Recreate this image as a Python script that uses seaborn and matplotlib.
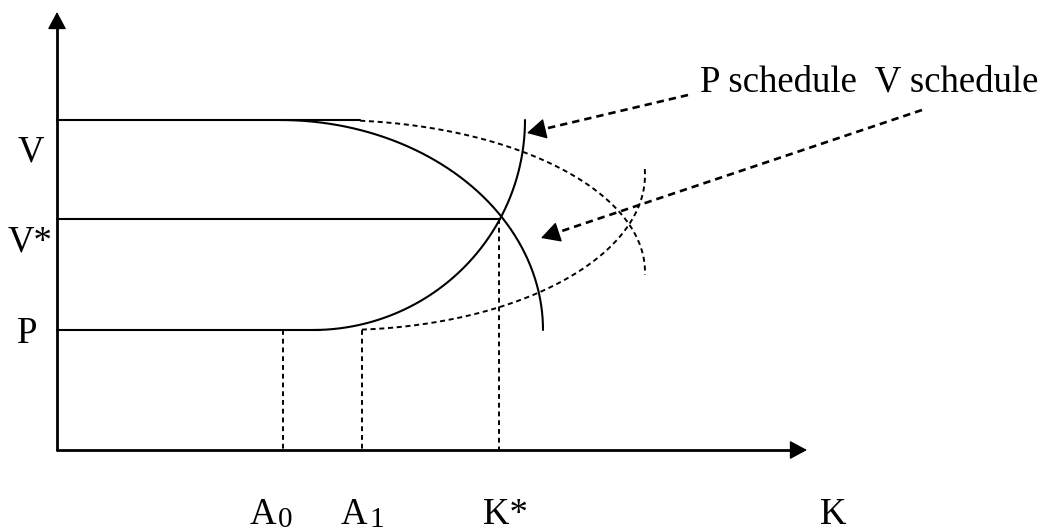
import numpy as np
import matplotlib
matplotlib.use("Agg")
import matplotlib.pyplot as plt
from matplotlib.patches import ArrowStyle
import seaborn as sns

sns.set_theme(style="white")
plt.rcParams['font.family'] = ['Liberation Serif', 'DejaVu Serif']

# ---- schematic values (pixel-space coordinates of the diagram) ----
origin = [57, 450]            # axes origin
axis_ends = [807, 12]         # x-axis tip, y-axis tip
level_names = ["V", "V*", "P"]
level_y = [120, 219, 330]
level_solid_end = [360, 500, 320]
mark_names = ["A0", "A1", "K*"]
mark_x = [283, 362, 499]
mark_top = [330, 330, 219]

# ellipse parameters: center x, center y, semi-axis a, semi-axis b, t0, t1 (deg)
v_solid = [280, 330, 263, 210, 0, 90]       # V schedule (solid)
p_solid = [313, 120, 212, 210, 0, 90]       # P schedule (solid)
v_dash = [330, 272, 315, 152, 5.5, 91]      # V schedule (dashed)
p_dash = [340, 175, 305, 155, 4.1, 92.2]    # P schedule (dashed)

annot_text = "P schedule  V schedule"
arrow_p = [[688, 95], [527, 133]]
arrow_v = [[922, 110], [541, 238]]

fig = plt.figure(figsize=(10.51, 5.32), dpi=100)
ax = fig.add_axes([0, 0, 1, 1])
ax.set_xlim(0, 1051)
ax.set_ylim(532, 0)
ax.axis("off")

def arrow_head(tip, frm, hl=10.8, hw=5.8):
    tip = np.array(tip, float); frm = np.array(frm, float)
    d = (tip - frm) / np.linalg.norm(tip - frm)
    base = tip - d * 16
    ax.annotate("", xy=tuple(tip), xytext=tuple(base),
                arrowprops=dict(arrowstyle=ArrowStyle("-|>", head_length=hl, head_width=hw),
                                color="black", lw=1.0, shrinkA=0, shrinkB=0,
                                mutation_scale=1))

# axes
ax.plot([origin[0], axis_ends[0] - 12], [origin[1], origin[1]], color="black", lw=2.0)
ax.plot([origin[0], origin[0]], [origin[1], axis_ends[1] + 12], color="black", lw=2.0)
arrow_head([axis_ends[0], origin[1]], [origin[0], origin[1]])
arrow_head([origin[0], axis_ends[1]], [origin[0], origin[1]])

# horizontal levels
for y, xe in zip(level_y, level_solid_end):
    ax.plot([origin[0], xe], [y, y], color="black", lw=1.5)

# dashed verticals
for x, yt in zip(mark_x, mark_top):
    ax.plot([x, x], [yt, origin[1]], color="black", lw=1.4, linestyle=(0, (2.5, 2)))

def draw_ell(params, going_down, lw, ls):
    cx, cy, a, b, t0, t1 = params
    t = np.radians(np.linspace(t0, t1, 300))
    x = cx + a * np.sin(t)
    y = cy - b * np.cos(t) if going_down else cy + b * np.cos(t)
    sns.lineplot(x=x, y=y, sort=False, color="black", lw=lw, ax=ax,
                 estimator=None, linestyle=ls)

draw_ell(v_solid, True, 1.5, "-")
draw_ell(p_solid, False, 1.5, "-")
draw_ell(v_dash, True, 1.4, (0, (2.6, 1.9)))
draw_ell(p_dash, False, 1.4, (0, (2.6, 1.9)))

# pointer arrows (dashed shafts)
for (s, e) in [arrow_p, arrow_v]:
    s = np.array(s, float); e = np.array(e, float)
    d = (e - s) / np.linalg.norm(e - s)
    ax.plot([s[0], e[0] - d[0] * 14], [s[1], e[1] - d[1] * 14], color="black",
            lw=1.9, linestyle=(0, (2.8, 1.9)))
    arrow_head(e, s, hl=12, hw=6.5)

fs = 26.5
tc = "black"
ax.text(700, 92, annot_text, fontsize=fs, ha="left", va="baseline", color=tc)

# y labels
ax.text(18, 162, "V", fontsize=fs, ha="left", va="baseline", color=tc)
ax.text(8, 252, "V*", fontsize=fs, ha="left", va="baseline", color=tc)
ax.text(17, 343, "P", fontsize=fs, ha="left", va="baseline", color=tc)

# x labels
ax.text(250, 524, "A", fontsize=fs, ha="left", va="baseline", color=tc)
ax.text(278, 527, "0", fontsize=21, ha="left", va="baseline", color=tc)
ax.text(341, 524, "A", fontsize=fs, ha="left", va="baseline", color=tc)
ax.text(369, 527, "1", fontsize=21, ha="left", va="baseline", color=tc)
ax.text(483, 524, "K*", fontsize=fs, ha="left", va="baseline", color=tc)
ax.text(820, 524, "K", fontsize=fs, ha="left", va="baseline", color=tc)

fig.savefig("out.png", dpi=100, facecolor="white")
